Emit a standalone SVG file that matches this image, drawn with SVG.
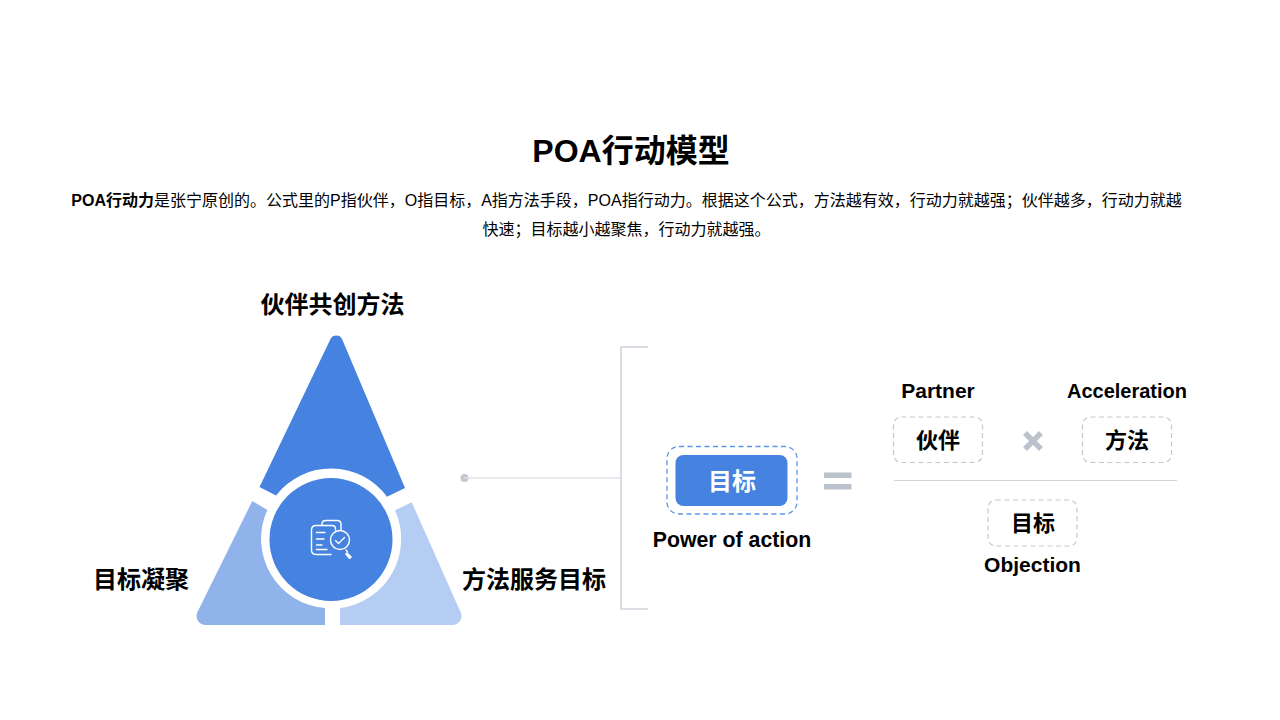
<svg xmlns="http://www.w3.org/2000/svg" width="1280" height="720" viewBox="0 0 1280 720">
<style>
text{font-family:"Liberation Sans","Noto Sans CJK SC",sans-serif;fill:#000;text-anchor:middle}
.b{font-weight:700}
.h{font-size:24px;font-weight:700}
.en{font-size:20px;font-weight:700}
.en2{font-size:21px;font-weight:700}
.cn{font-size:22px;font-weight:700}
.p{font-size:16px}
.dash{fill:none;stroke:#c2c7d0;stroke-width:1.2;stroke-dasharray:5 3.5}
.line{fill:none;stroke:#d0d5dd;stroke-width:1.5}
.ic{fill:none;stroke:#fff;stroke-width:1.4;stroke-linecap:round;stroke-linejoin:round}
</style>
<rect width="1280" height="720" fill="#fff"/>
<text id="title" class="b" x="631" y="162" font-size="32">POA行动模型</text>
<g id="intro">
<text class="p" x="626.500" y="206"><tspan class="b">POA行动力</tspan>是张宁原创的。公式里的P指伙伴，O指目标，A指方法手段，POA指行动力。根据这个公式，方法越有效，行动力就越强；伙伴越多，行动力就越</text>
<text class="p" x="626.500" y="235">快速；目标越小越聚焦，行动力就越强。</text>
</g>
<g id="connectors">
<circle cx="464.500" cy="478" r="4" fill="#c2c7d0"/>
<path d="M464.500 478H621" fill="none" stroke="#dfe2e7" stroke-width="1.500"/>
<path class="line" d="M648 347H621V609H648"/>
<path d="M894 480.500H1177" fill="none" stroke="#d0d5dd" stroke-width="1"/>
</g>
<g id="triangle-top">
<path fill="#4682df" d="M259.500 487L330.500 339A6.500 6.500 0 0 1 342 339L405 488L387 496.700A69.500 69.500 0 0 0 276 495.500Z"/>
<text class="h" x="332.500" y="313">伙伴共创方法</text>
</g>
<g id="triangle-left">
<path fill="#8fb3ea" d="M252.300 501L267.300 510A69.500 69.500 0 0 0 325 608V625H206A9 9 0 0 1 197.500 612Z"/>
<text class="h" x="141" y="587.500">目标凝聚</text>
</g>
<g id="triangle-right">
<path fill="#b5cdf2" d="M411.700 502.300L395 510.300A69.500 69.500 0 0 1 340 608V625H452A9 9 0 0 0 460.500 612Z"/>
<text class="h" x="534" y="587.500">方法服务目标</text>
</g>
<g id="center">
<circle cx="331" cy="539.500" r="61.500" fill="#4682df"/>
<path class="ic" d="M322 525.500V524Q322 520.500 326 520.500H337Q341 520.500 341 524V530"/>
<path class="ic" d="M331 554.500H316Q311.500 554.500 311.500 550V530Q311.500 525.500 316 525.500H332Q335.500 525.500 335.500 529V530"/>
<path class="ic" d="M316.500 532.500H325M316.500 539H324M316.500 545H322M316.500 549.500H327" stroke-width="1.200"/>
<circle class="ic" cx="340" cy="540" r="9.500"/>
<path class="ic" d="M335.500 540.500L338.500 543.500L344.500 537.500"/>
<path class="ic" d="M346 550L347.500 552"/>
<path d="M347 552.500L351.500 557L349.500 559L345.500 554Z" fill="#fff" stroke="#fff" stroke-width="1"/>
</g>
<g id="result">
<rect x="667" y="446.500" width="130" height="67.500" rx="12" fill="none" stroke="#5b95ea" stroke-width="1.300" stroke-dasharray="5 3.500"/>
<rect x="675.500" y="455" width="112" height="51" rx="8" fill="#4682df"/>
<text class="b" x="732" y="490" font-size="24" style="fill:#fff">目标</text>
<text class="en" x="732" y="547" font-size="21" style="font-size:21.300px">Power of action</text>
</g>
<g id="equals" fill="#bcc2cc">
<rect x="824" y="472.500" width="27.500" height="5.500"/>
<rect x="824" y="484" width="27.500" height="5.500"/>
</g>
<g id="partner">
<text class="en2" x="938" y="397.500">Partner</text>
<rect class="dash" x="893.500" y="417" width="89" height="45.500" rx="8"/>
<text class="cn" x="938" y="448">伙伴</text>
</g>
<g id="times">
<path d="M1025 433L1041 449M1041 433L1025 449" stroke="#bcc2cc" stroke-width="5.500" fill="none"/>
</g>
<g id="acceleration">
<text class="en" x="1127" y="398">Acceleration</text>
<rect class="dash" x="1082.500" y="417" width="89" height="45.500" rx="8"/>
<text class="cn" x="1127" y="448">方法</text>
</g>
<g id="objection">
<rect class="dash" x="988" y="500" width="89" height="46" rx="8"/>
<text class="cn" x="1033" y="531">目标</text>
<text class="en2" x="1032.500" y="572">Objection</text>
</g>
</svg>
